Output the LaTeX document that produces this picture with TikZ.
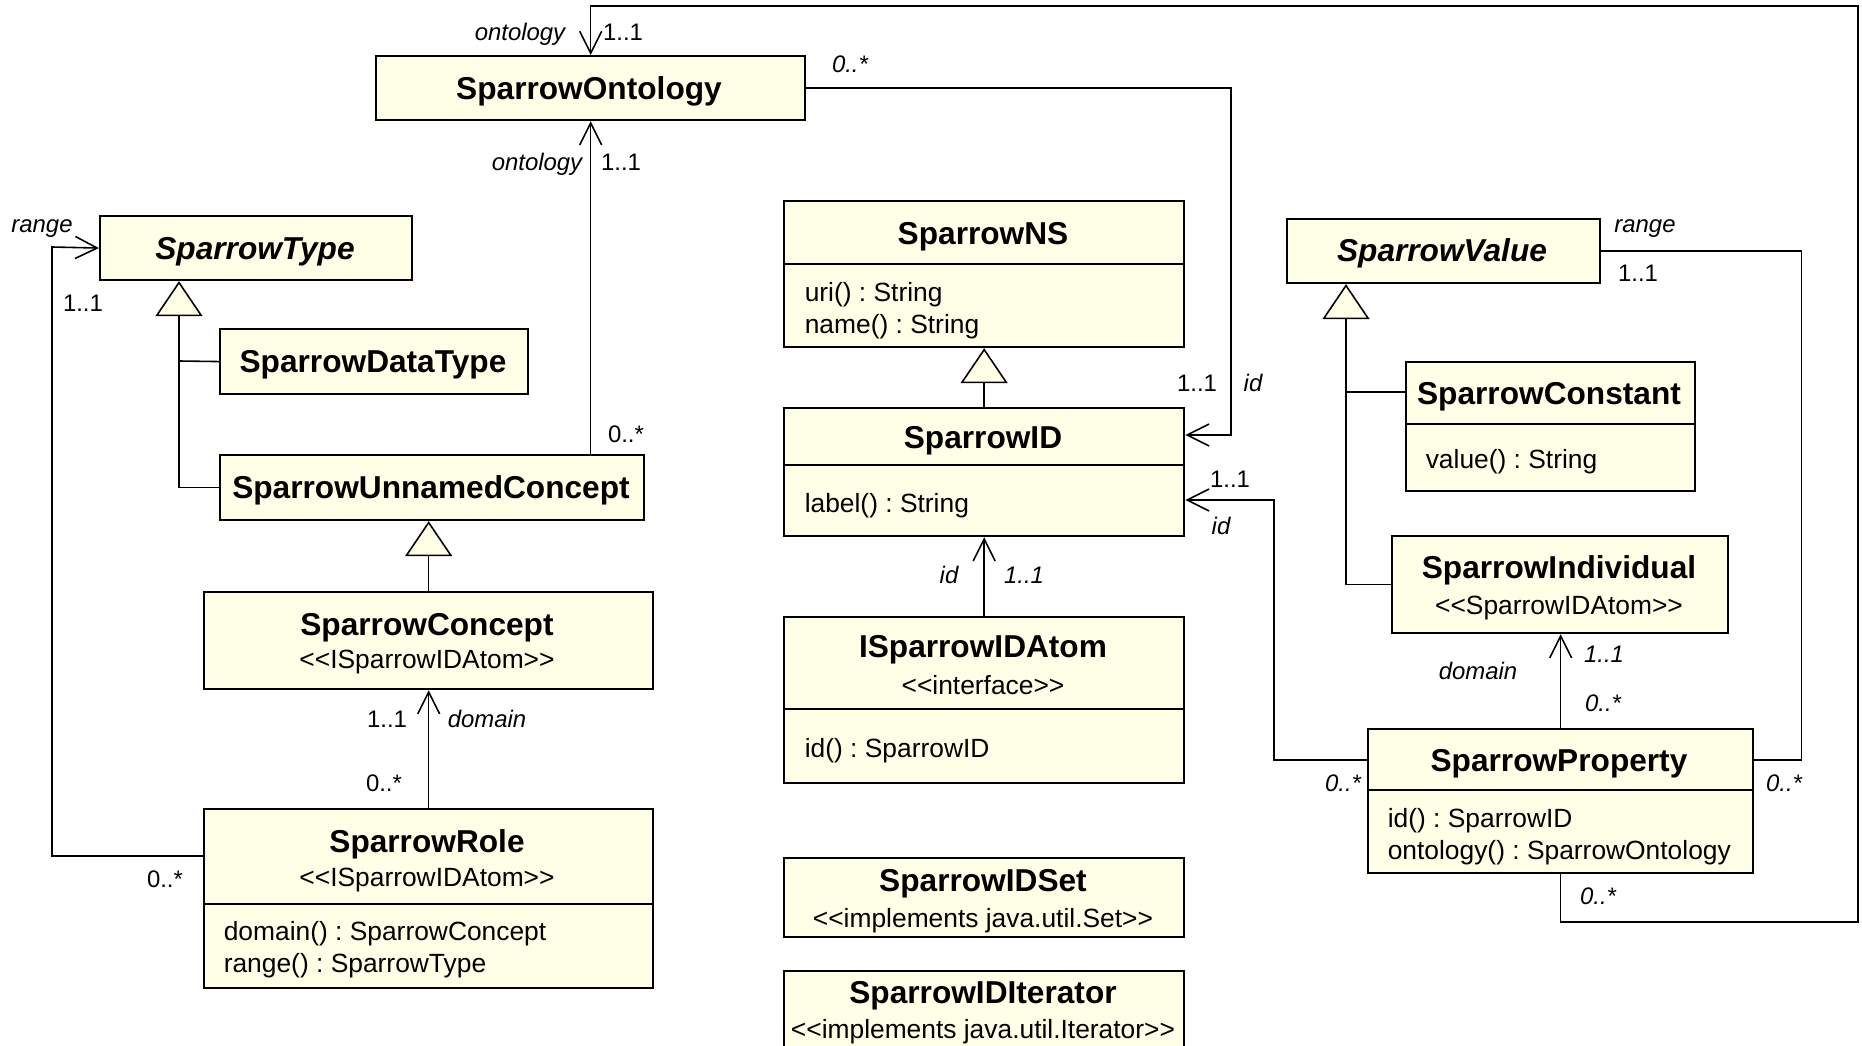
\documentclass[tikz,border=0pt]{standalone}
\usepackage{fontspec}
\setmainfont{Liberation Sans}[Ligatures=TeXOff]
\usetikzlibrary{arrows.meta, calc}
\definecolor{clsfill}{RGB}{255,255,232}
\frenchspacing

\begin{document}
\begin{tikzpicture}[x=0.01cm, y=-0.01cm, >={Straight Barb[length=2.2mm, width=2.2mm]}, line width=0.45pt]
                \tikzset{cls/.style={draw, line width=0.6pt, fill=clsfill, inner sep=0pt, anchor=north west},
                         sep/.style={line width=0.6pt},
                         ttl/.style={inner sep=0pt, text height=1.6ex, text depth=0.4ex, font=\fontsize{9}{10}\selectfont\bfseries},
                         ttli/.style={ttl, font=\fontsize{9}{10}\selectfont\bfseries\itshape},
                         txt/.style={inner sep=0pt, text height=1.6ex, text depth=0.4ex, font=\fontsize{7.5}{9}\selectfont},
                         att/.style={txt, anchor=west},
                         lbl/.style={inner sep=0pt, text height=1.6ex, text depth=0.4ex, font=\fontsize{6.8}{8}\selectfont\itshape},
                         mult/.style={inner sep=0pt, text height=1.6ex, text depth=0.4ex, font=\fontsize{6.8}{8}\selectfont},
                         gen/.style={-{Triangle[length=3.5mm, width=4.7mm, fill=clsfill]}}}
                \fill[white] (0,0) rectangle (1862,1046);
                \useasboundingbox (0,0) rectangle (1862,1046);
                \node[cls, minimum width=4.29cm, minimum height=0.64cm] (ontbx) at (375,55) {};
                \node[ttl] (ontttl) at (589,88) {SparrowOntology};
                \node[cls, minimum width=3.12cm, minimum height=0.64cm] (typebx) at (99,215) {};
                \node[ttli] (typettl) at (255,248) {SparrowType};
                \node[cls, minimum width=3.08cm, minimum height=0.65cm] (dtbx) at (219,328) {};
                \node[ttl] (dtttl) at (373,361) {SparrowDataType};
                \node[cls, minimum width=4.24cm, minimum height=0.65cm] (uncbx) at (219,454) {};
                \node[ttl] (uncttl) at (431,487) {SparrowUnnamedConcept};
                \node[cls, minimum width=4.49cm, minimum height=0.97cm] (conbx) at (203,591) {};
                \node[ttl] (conttl) at (427,624) {SparrowConcept};
                \node[txt] (constr) at (427,657) {<<ISparrowIDAtom>>};
                \node[cls, minimum width=4.49cm, minimum height=1.79cm] (rolebx) at (203,808) {};
                \draw[sep] (rolebx.west |- 0,904) -- (rolebx.east |- 0,904);
                \node[ttl] (rolettl) at (427,841) {SparrowRole};
                \node[txt] (rolestr) at (427,875) {<<ISparrowIDAtom>>};
                \node[att] (roleat1) at (223,929) {domain() : SparrowConcept};
                \node[att] (roleat2) at (223,961) {range() : SparrowType};
                \node[cls, minimum width=4cm, minimum height=1.46cm] (nsbx) at (783,200) {};
                \draw[sep] (nsbx.west |- 0,264) -- (nsbx.east |- 0,264);
                \node[ttl] (nsttl) at (983,233) {SparrowNS};
                \node[att] (nsat1) at (804,290) {uri() : String};
                \node[att] (nsat2) at (804,322) {name() : String};
                \node[cls, minimum width=4cm, minimum height=1.28cm] (idbx) at (783,407) {};
                \draw[sep] (idbx.west |- 0,465) -- (idbx.east |- 0,465);
                \node[ttl] (idttl) at (983,437) {SparrowID};
                \node[att] (idat1) at (804,501) {label() : String};
                \node[cls, minimum width=4cm, minimum height=1.66cm] (atombx) at (783,616) {};
                \draw[sep] (atombx.west |- 0,709) -- (atombx.east |- 0,709);
                \node[ttl] (atomttl) at (983,646) {ISparrowIDAtom};
                \node[txt] (atomstr) at (983,683) {<<interface>>};
                \node[att] (atomat1) at (804,746) {id() : SparrowID};
                \node[cls, minimum width=4cm, minimum height=0.79cm] (setbx) at (783,857) {};
                \node[ttl] (setttl) at (983,880) {SparrowIDSet};
                \node[txt] (setstr) at (983,916) {<<implements java.util.Set>>};
                \node[cls, minimum width=4cm, minimum height=1cm] (iterbx) at (783,970) {};
                \node[ttl] (iterttl) at (983,992) {SparrowIDIterator};
                \node[txt] (iterstr) at (983,1027) {<<implements java.util.Iterator>>};
                \node[cls, minimum width=3.13cm, minimum height=0.64cm] (valbx) at (1286,218) {};
                \node[ttli] (valttl) at (1442,250) {SparrowValue};
                \node[cls, minimum width=2.89cm, minimum height=1.29cm] (constbx) at (1405,361) {};
                \draw[sep] (constbx.west |- 0,424) -- (constbx.east |- 0,424);
                \node[ttl] (constttl) at (1549,393) {SparrowConstant};
                \node[att] (constat1) at (1425,457) {value() : String};
                \node[cls, minimum width=3.36cm, minimum height=0.97cm] (indbx) at (1391,535) {};
                \node[ttl] (indttl) at (1559,567) {SparrowIndividual};
                \node[txt] (indstr) at (1559,603) {<<SparrowIDAtom>>};
                \node[cls, minimum width=3.85cm, minimum height=1.44cm] (propbx) at (1367,728) {};
                \draw[sep] (propbx.west |- 0,790) -- (propbx.east |- 0,790);
                \node[ttl] (propttl) at (1559,760) {SparrowProperty};
                \node[att] (propat1) at (1387,816) {id() : SparrowID};
                \node[att] (propat2) at (1387,848) {ontology() : SparrowOntology};
                \draw[->] (propbx.south) -- ++(0,48) -| (1858,6) -| (ontbx.north);
                \draw[->] (ontbx.south |- uncbx.north) -- (ontbx.south);
                \draw[->] (ontbx.east) -| (1231,435) -- (idbx.east |- 0,435);
                \draw[->] (rolebx.west |- 0,856) -| (52,247) -- (typebx.west);
                \draw[gen] (uncbx.west) -| ($(typebx.south west)+(80,0)$);
                \draw (dtbx.west) -- (179,361);
                \draw[gen] (conbx.north) -- (conbx.north |- uncbx.south);
                \draw[->] (rolebx.north) -- (conbx.south);
                \draw[gen] (idbx.north) -- (nsbx.south);
                \draw[->] (atombx.north) -- (idbx.south);
                \draw[->] (propbx.west |- 0,760) -| (1274,500) -- (idbx.east |- 0,500);
                \draw[gen] (indbx.west) -| ($(valbx.south west)+(60,0)$);
                \draw (constbx.west |- 0,392) -- (1346,392);
                \draw[->] (propbx.north) -- (propbx.north |- indbx.south);
                \draw (propbx.east |- 0,760) -| ($(valbx.east)+(200,0)$) -- (valbx.east);
                \node[lbl] (l1) at (520,29) {ontology};
                \node[mult] (m1) at (623,29) {1..1};
                \node[lbl] (m2) at (850,61) {0..*};
                \node[lbl] (l2) at (537,159) {ontology};
                \node[mult] (m3) at (621,159) {1..1};
                \node[lbl] (l3) at (42,221) {range};
                \node[mult] (m4) at (83,300) {1..1};
                \node[mult] (m5) at (626,431) {0..*};
                \node[mult] (m6) at (387,716) {1..1};
                \node[lbl] (l4) at (487,716) {domain};
                \node[mult] (m7) at (384,780) {0..*};
                \node[mult] (m8) at (165,876) {0..*};
                \node[mult] (m9) at (1197,380) {1..1};
                \node[lbl] (l5) at (1253,380) {id};
                \node[mult] (m10) at (1230,476) {1..1};
                \node[lbl] (l6) at (1221,523) {id};
                \node[lbl] (l7) at (949,572) {id};
                \node[lbl] (m11) at (1024,572) {1..1};
                \node[lbl] (l8) at (1645,221) {range};
                \node[mult] (m12) at (1638,270) {1..1};
                \node[lbl] (l9) at (1478,668) {domain};
                \node[lbl] (m13) at (1604,651) {1..1};
                \node[lbl] (m14) at (1603,700) {0..*};
                \node[lbl] (m15) at (1343,780) {0..*};
                \node[lbl] (m16) at (1784,780) {0..*};
                \node[lbl] (m17) at (1598,893) {0..*};
\end{tikzpicture}
\end{document}
